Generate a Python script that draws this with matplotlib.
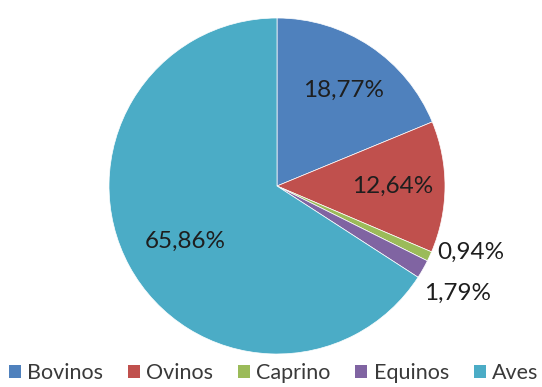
import matplotlib
matplotlib.use("Agg")
import matplotlib.pyplot as plt
import numpy as np
from matplotlib.patches import Patch

categories = ["Bovinos", "Ovinos", "Caprino", "Equinos", "Aves"]
values = [18.77, 12.64, 0.94, 1.79, 65.86]
labels = ["18,77%", "12,64%", "0,94%", "1,79%", "65,86%"]
colors = ["#4F81BD", "#C0504D", "#9BBB59", "#8064A2", "#4BACC6"]

plt.rcParams['font.family'] = ['Lato', 'DejaVu Sans']
fig = plt.figure(figsize=(5.42, 3.87), dpi=100)
ax = fig.add_axes([0, 0, 1, 1])

cx, cy, r = 277, 201, 168
wedges, _ = ax.pie(values, colors=colors, startangle=90, counterclock=False,
                   radius=r, center=(cx, cy), frame=True,
                   wedgeprops=dict(linewidth=0.5, edgecolor='white'))
ax.set_xlim(0, 542)
ax.set_ylim(0, 387)
ax.axis('off')

# label placement: (distance factor, angle offset in degrees)
placement = [(0.69, -1), (0.69, 0), (1.22, 6), (1.25, -1), (0.64, 2.5)]
for w, lab, (d, off) in zip(wedges, labels, placement):
    ang = np.deg2rad((w.theta1 + w.theta2) / 2 + off)
    x = cx + d * r * np.cos(ang)
    y = cy + d * r * np.sin(ang)
    ax.text(x, y, lab, ha='center', va='center', fontsize=17.5, color='#1e1e1e')

handles = [Patch(facecolor=c, edgecolor='none') for c in colors]
fig.legend(handles, categories, loc='lower center', ncol=5, frameon=False,
           bbox_to_anchor=(0.505, -0.035), fontsize=15.5, handlelength=0.55,
           handleheight=0.55, handletextpad=0.3, columnspacing=1.15,
           labelcolor='#3a3a3a', borderpad=0.3)

fig.savefig("out.png", dpi=100)
